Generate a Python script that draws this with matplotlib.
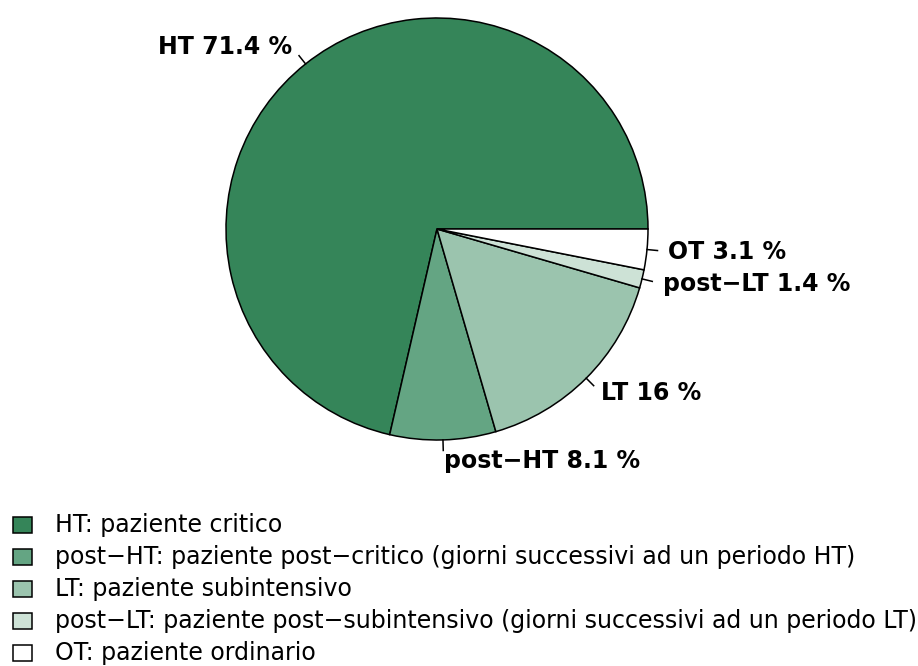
import numpy as np
import matplotlib.pyplot as plt
from matplotlib.patches import Rectangle

plt.rcParams['font.family'] = ['DejaVu Sans']

# data
slices = ["HT", "post\u2212HT", "LT", "post\u2212LT", "OT"]
shares = [71.4, 8.1, 16, 1.4, 3.1]
share_text = ["71.4", "8.1", "16", "1.4", "3.1"]
colors = ["#358559", "#64a583", "#9bc4ae", "#cde2d6", "#ffffff"]
legend_labels = [
    "HT: paziente critico",
    "post\u2212HT: paziente post\u2212critico (giorni successivi ad un periodo HT)",
    "LT: paziente subintensivo",
    "post\u2212LT: paziente post\u2212subintensivo (giorni successivi ad un periodo LT)",
    "OT: paziente ordinario",
]

W, H = 918, 666
fig = plt.figure(figsize=(W / 100, H / 100), dpi=100)
ax = fig.add_axes([0, 0, 1, 1])
ax.set_xlim(0, W)
ax.set_ylim(0, H)
ax.set_aspect("equal")
ax.axis("off")

cx, cy, r = 437, H - 229, 211
ax.pie(shares, colors=colors, startangle=0, counterclock=True,
       center=(cx, cy), radius=r,
       wedgeprops=dict(edgecolor="black", linewidth=1.1))
ax.set_xlim(0, W)
ax.set_ylim(0, H)

frac = np.array(shares) / sum(shares)
mids = (np.cumsum(frac) - frac / 2) * 2 * np.pi
for name, txt, a in zip(slices, share_text, mids):
    c, s = np.cos(a), np.sin(a)
    ax.plot([cx + r * c, cx + 1.05 * r * c], [cy + r * s, cy + 1.05 * r * s],
            color="black", lw=1.1)
    ax.text(cx + 1.1 * r * c, cy + 1.1 * r * s, f"{name} {txt} %",
            ha="left" if c > 0 else "right", va="center",
            fontsize=17, fontweight="bold")

# legend
for i, (lab, col) in enumerate(zip(legend_labels, colors)):
    y = H - 525 - 32 * i
    ax.add_patch(Rectangle((13, y - 8), 19, 16, facecolor=col,
                           edgecolor="black", lw=1.1))
    ax.text(55, y, lab, ha="left", va="center", fontsize=17)

fig.savefig("out.png", dpi=100)
